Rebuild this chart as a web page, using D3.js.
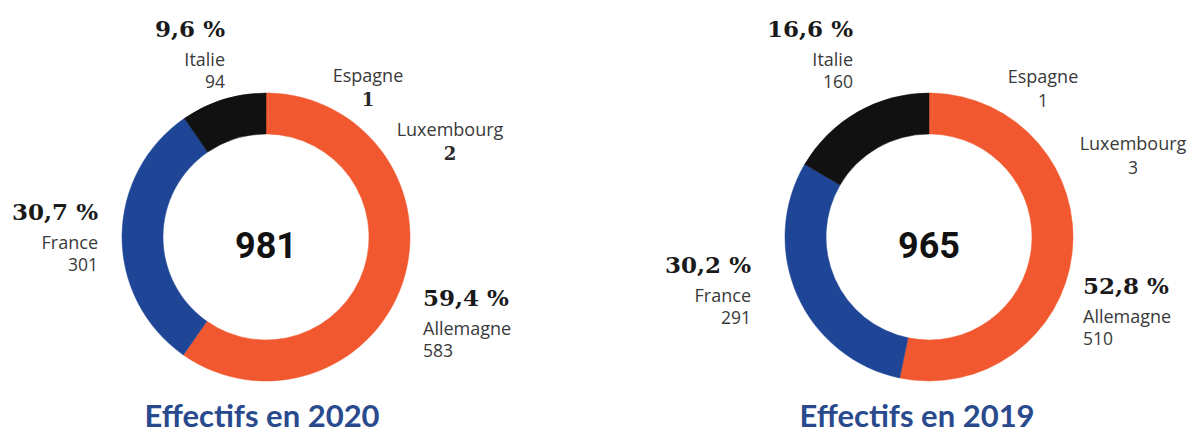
<!DOCTYPE html>
<html lang="fr">
<head>
<meta charset="utf-8">
<script src="https://cdn.jsdelivr.net/npm/d3@7"></script>
<style>
  html, body { margin: 0; padding: 0; background: #ffffff; }
  svg { display: block; }
  .pct { font-family: "DejaVu Serif", serif; font-weight: 700; font-size: 23px; fill: #1a1a1a; }
  .lbl { font-family: "Open Sans", Lato, sans-serif; font-size: 18px; fill: #3a3a3a; }
  .num { font-family: "Open Sans", Lato, sans-serif; font-size: 17.5px; fill: #3a3a3a; }
  .numb { font-family: "DejaVu Serif", serif; font-weight: 700; font-size: 18px; fill: #2a2a2a; }
  .total { font-family: Roboto, Lato, sans-serif; font-weight: 700; font-size: 36px; fill: #111; }
  .title { font-family: Lato, "Open Sans", sans-serif; font-weight: 700; font-size: 31px; fill: #2a4a8e; }
</style>
</head>
<body>
<svg id="chart" width="1192" height="434"></svg>
<script>
// Staff headcount by country, clockwise from 12 o'clock
const countries = ["Espagne", "Luxembourg", "Allemagne", "France", "Italie"];
const staff2020 = [1, 2, 583, 301, 94];
const staff2019 = [1, 3, 510, 291, 160];
const share2020 = { Allemagne: "59,4 %", France: "30,7 %", Italie: "9,6 %" };
const share2019 = { Allemagne: "52,8 %", France: "30,2 %", Italie: "16,6 %" };
const titles = ["Effectifs en 2020", "Effectifs en 2019"];

const colour = d3.scaleOrdinal()
  .domain(countries)
  .range(["#f1582f", "#f1582f", "#f1582f", "#1e4596", "#111111"]);

const svg = d3.select("#chart");
const outerR = 144, innerR = 103;

const pie = d3.pie().sort(null).value(d => d.value);
const arc = d3.arc().innerRadius(innerR).outerRadius(outerR);

// Label placement relative to each ring's centre (anchor, dx, baseline of first line)
const layouts = [
  {
    cx: 266, cy: 237, titleX: 262,
    labels: {
      Italie:     { anchor: "end",    dx: -41, y: 37,  pct: true },
      Espagne:    { anchor: "middle", dx: 102, y: 82,  serifNum: true },
      Luxembourg: { anchor: "middle", dx: 184, y: 136, serifNum: true },
      France:     { anchor: "end",    dx: -168, y: 220, pct: true },
      Allemagne:  { anchor: "start",  dx: 157, y: 306, pct: true }
    }
  },
  {
    cx: 929, cy: 237, titleX: 917,
    labels: {
      Italie:     { anchor: "end",    dx: -76, y: 37,  pct: true },
      Espagne:    { anchor: "middle", dx: 114, y: 83 },
      Luxembourg: { anchor: "middle", dx: 204, y: 150 },
      France:     { anchor: "end",    dx: -178, y: 273, pct: true },
      Allemagne:  { anchor: "start",  dx: 154, y: 294, pct: true }
    }
  }
];

[[staff2020, share2020], [staff2019, share2019]].forEach(([values, shares], i) => {
  const L = layouts[i];
  const data = countries.map((c, k) => ({ country: c, value: values[k] }));
  const total = d3.sum(values);
  const g = svg.append("g").attr("transform", `translate(${L.cx},${L.cy})`);

  g.selectAll("path")
    .data(pie(data))
    .join("path")
    .attr("d", arc)
    .attr("fill", d => colour(d.data.country))
    .attr("stroke", d => colour(d.data.country))
    .attr("stroke-width", 0.5);

  g.append("text")
    .attr("class", "total")
    .attr("text-anchor", "middle")
    .attr("y", 21)
    .text(total);

  data.forEach(d => {
    const p = L.labels[d.country];
    const t = svg.append("g").attr("transform", `translate(${L.cx + p.dx},0)`);
    let y = p.y;
    if (p.pct) {
      t.append("text").attr("class", "pct").attr("text-anchor", p.anchor).attr("y", y).text(shares[d.country]);
      y += 29;
      t.append("text").attr("class", "lbl").attr("text-anchor", p.anchor).attr("y", y).text(d.country);
      y += 22;
      t.append("text").attr("class", "num").attr("text-anchor", p.anchor).attr("y", y).text(d.value);
    } else {
      t.append("text").attr("class", "lbl").attr("text-anchor", p.anchor).attr("y", y).text(d.country);
      y += 24;
      t.append("text").attr("class", p.serifNum ? "numb" : "num").attr("text-anchor", p.anchor).attr("y", y).text(d.value);
    }
  });

  svg.append("text")
    .attr("class", "title")
    .attr("text-anchor", "middle")
    .attr("x", L.titleX)
    .attr("y", 427)
    .text(titles[i]);
});
</script>
</body>
</html>
